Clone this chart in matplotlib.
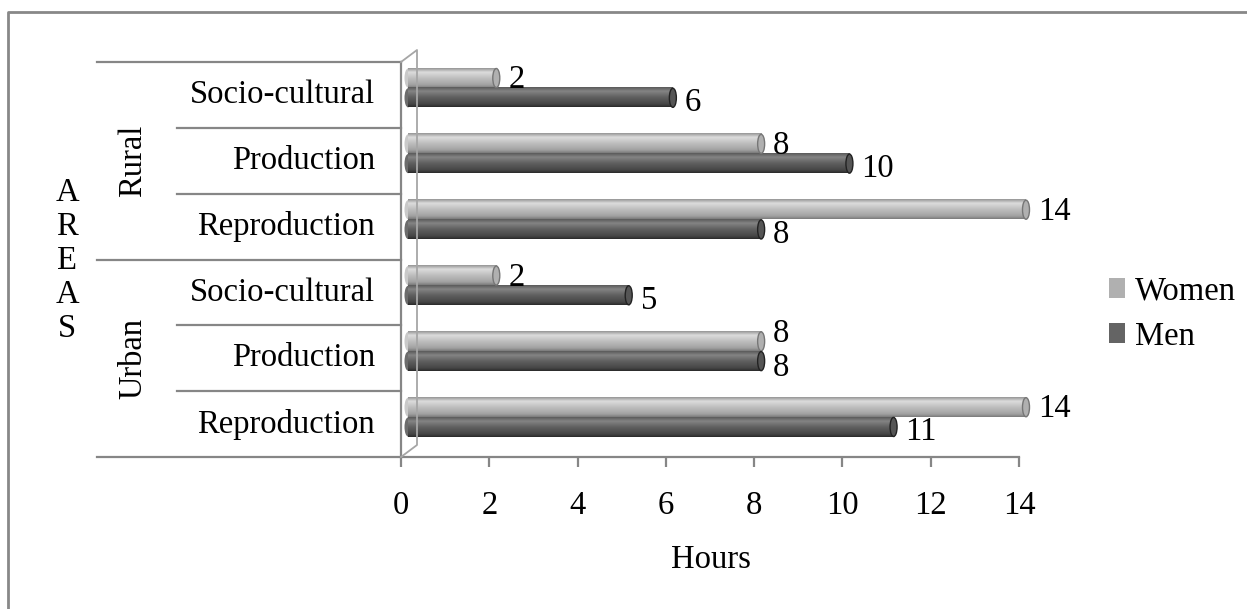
import matplotlib
matplotlib.use('Agg')
import matplotlib.pyplot as plt
import numpy as np
from matplotlib.colors import LinearSegmentedColormap
from matplotlib.patches import Patch, Ellipse
from matplotlib.lines import Line2D
import matplotlib.transforms as mtrans

# ---------------- data ----------------
activities = ['Reproduction', 'Production', 'Socio-cultural',
              'Reproduction', 'Production', 'Socio-cultural']
groups = ['Urban', 'Rural']
women = [14, 8, 2, 14, 8, 2]
men = [11, 8, 5, 8, 10, 6]
xticks = [0, 2, 4, 6, 8, 10, 12, 14]
series_names = ['Women', 'Men']
x_label = 'Hours'
y_label = 'AREAS'

plt.rcParams['font.family'] = ['Liberation Serif', 'DejaVu Serif']

W, H = 1247, 609
fig = plt.figure(figsize=(W / 100, H / 100), dpi=100)
fig.patch.set_facecolor('white')

def fx(x):
    return x / W

def fy(y):
    return 1 - y / H

AX_L, AX_R, AX_T, AX_B = 401, 1019, 62, 457
ax = fig.add_axes([fx(AX_L), fy(AX_B), (AX_R - AX_L) / W, (AX_B - AX_T) / H])
ax.set_facecolor('none')

gray = '#868686'
FS = 23.5

# gradients for cylinder look
cm_w = LinearSegmentedColormap.from_list('w', [(0, '#959595'), (0.2, '#dcdcdc'), (0.5, '#bfbfbf'),
                                               (0.85, '#a2a2a2'), (1, '#7a7a7a')])
cm_m = LinearSegmentedColormap.from_list('m', [(0, '#5a5a5a'), (0.2, '#848484'), (0.5, '#606060'),
                                               (0.85, '#474747'), (1, '#2a2a2a')])

off = mtrans.offset_copy(ax.transData, fig=fig, x=7, y=7, units='dots')
px_per_unit = (AX_R - AX_L) / 14.0
bh = 0.29
grad = np.linspace(0, 1, 64).reshape(-1, 1)

n = len(activities)
for i in range(n):
    for val, yc, cm, capc, edgec in [
        (women[i], i + 0.15, cm_w, '#b0b0b0', '#767676'),
        (men[i], i - 0.15, cm_m, '#555555', '#222222'),
    ]:
        im = ax.imshow(grad, cmap=cm, extent=(0, val, yc - bh / 2, yc + bh / 2), origin='upper',
                       aspect='auto', interpolation='bilinear', zorder=3)
        im.set_transform(off)
        im.set_clip_on(False)
        ew = 7 / px_per_unit
        e0 = Ellipse((0, yc), width=ew, height=bh, facecolor=cm(0.4), edgecolor='none',
                     transform=off, zorder=2.9, clip_on=False)
        ax.add_patch(e0)
        e1 = Ellipse((val, yc), width=ew, height=bh, facecolor=capc, edgecolor=edgec,
                     linewidth=1, transform=off, zorder=4, clip_on=False)
        ax.add_patch(e1)

# value labels
for i in range(n):
    w, m = women[i], men[i]
    if w == m:
        dw, dm = 15, 0
    else:
        dw, dm = 5, 2
    ax.annotate(str(w), xy=(w, i + 0.15), xytext=(19, dw), textcoords='offset pixels',
                ha='left', va='center', fontsize=FS, annotation_clip=False, zorder=5)
    ax.annotate(str(m), xy=(m, i - 0.15), xytext=(19, dm), textcoords='offset pixels',
                ha='left', va='center', fontsize=FS, annotation_clip=False, zorder=5)

ax.set_xlim(0, 14)
ax.set_ylim(-0.5, 5.5)

# spines / ticks
for s in ['top', 'right']:
    ax.spines[s].set_visible(False)
for s in ['left', 'bottom']:
    ax.spines[s].set_color(gray)
    ax.spines[s].set_linewidth(1.6)
ax.set_xticks(xticks)
ax.set_xticklabels([str(t) for t in xticks])
ax.tick_params(axis='x', direction='out', length=7, width=1.6, color=gray,
               labelsize=FS, pad=17)
ax.set_yticks([])

# category labels and multi-level lines
yt = ax.get_yaxis_transform()
for i, lab in enumerate(activities):
    ax.text((375 - AX_L) / (AX_R - AX_L), i, lab, transform=yt, ha='right', va='center', fontsize=FS)
for g, gname in enumerate(groups):
    ax.text((133 - AX_L) / (AX_R - AX_L), g * 3 + 1, gname, transform=yt, ha='center', va='center',
            rotation=90, fontsize=FS)
outer_x = (97 - AX_L) / (AX_R - AX_L)
inner_x = (177 - AX_L) / (AX_R - AX_L)
for b in np.arange(-0.5, n, 1.0):
    xs = outer_x if (b + 0.5) % 3 == 0 else inner_x
    ax.add_line(Line2D([xs, 0], [b, b], transform=yt, color=gray, lw=1.6, clip_on=False))

# back wall
wall = Line2D([fx(401), fx(417), fx(417), fx(401)], [fy(62), fy(50), fy(445), fy(457)],
              transform=fig.transFigure, color='#a6a6a6', lw=1.3)
fig.add_artist(wall)

# axis titles
fig.text(fx(711), fy(560), x_label, ha='center', va='center', fontsize=FS)
fig.text(fx(67), fy(261), '\n'.join(list(y_label)), ha='center', va='center', fontsize=FS,
         linespacing=1.15, multialignment='center')

# legend
handles = [Patch(facecolor='#b0b0b0', edgecolor='none'), Patch(facecolor='#646464', edgecolor='none')]
fig.legend(handles, series_names, loc='center left', bbox_to_anchor=(fx(1109), fy(314)),
           frameon=False, fontsize=FS, handlelength=0.5, handleheight=0.55, handletextpad=0.3,
           labelspacing=0.45, borderpad=0, borderaxespad=0)

# outer border (left and top)
fig.add_artist(Line2D([fx(8), fx(8), fx(1247)], [fy(609), fy(12), fy(12)],
                      transform=fig.transFigure, color='#888888', lw=2))

fig.savefig('out.png', dpi=100)
